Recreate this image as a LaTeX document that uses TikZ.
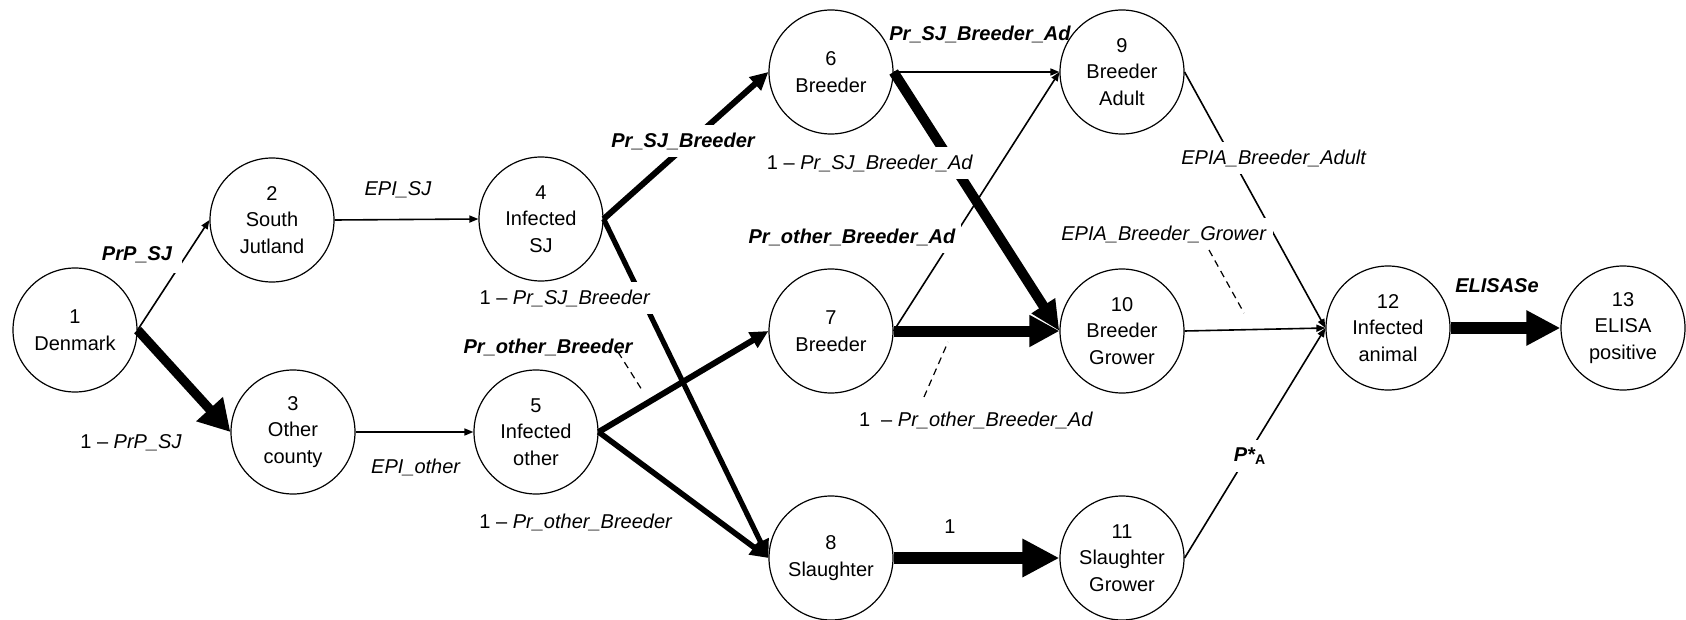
\documentclass[tikz,border=0pt]{standalone}
\usepackage{fontspec}
\setmainfont{Liberation Sans}
\usetikzlibrary{arrows.meta,backgrounds}
\begin{document}
\begin{tikzpicture}[x=0.5pt,y=-0.5pt,
  st/.style={circle,draw,line width=0.6pt,minimum size=62pt,inner sep=0pt,align=center,font=\fontsize{10}{13.3}\selectfont},
  lab/.style={fill=white,inner xsep=3pt,inner ysep=4pt,font=\fontsize{10}{12}\selectfont},
  blab/.style={lab,font=\fontsize{10}{12}\selectfont\bfseries\itshape},
  sarr/.style={line width=0.8pt,-{Triangle[length=4.5pt,width=3.5pt]}},
  marr/.style={line width=3pt,-{Triangle[length=9pt,width=8.5pt]}},
  harr/.style={line width=5.5pt,-{Triangle[length=15pt,width=15pt]}},
  lead/.style={line width=0.6pt,dash pattern=on 3.5pt off 2.5pt}]
\useasboundingbox (0,0) rectangle (1686,620);
% states
\node[st] (n1) at (75,330) {1\\Denmark};
\node[st] (n2) at (272,220) {2\\South\\Jutland};
\node[st] (n3) at (293,432) {3\\Other\\county};
\node[st] (n4) at (541,219) {4\\Infected\\SJ};
\node[st] (n5) at (536,432) {5\\Infected\\other};
\node[st] (n6) at (831,72) {6\\Breeder};
\node[st] (n7) at (831,331) {7\\Breeder};
\node[st] (n8) at (831,558) {8\\Slaughter};
\node[st] (n9) at (1122,72) {9\\Breeder\\Adult};
\node[st] (n10) at (1122,331) {10\\Breeder\\Grower};
\node[st] (n11) at (1122,558) {11\\Slaughter\\Grower};
\node[st] (n12) at (1388,328) {12\\Infected\\animal};
\node[st] (n13) at (1623,328) {13\\ELISA\\positive};
\begin{scope}[on background layer]
% connectors
\draw[sarr] (n1.east) -- (n2.west);
\draw[harr,line width=4.7pt,-{Triangle[length=15.5pt,width=17pt]}] (n1.east) -- (n3.west);
\draw[sarr] (n2.east) -- (n4.west);
\draw[sarr] (n3.east) -- (n5.west);
\draw[marr] (n4.east) -- (n6.west);
\draw[marr,line width=2.6pt] (n4.east) -- (n8.west);
\draw[marr] (n5.east) -- (n7.west);
\draw[marr,line width=2.8pt] (n5.east) -- (n8.west);
\draw[sarr] (n6.east) -- (n9.west);
\draw[harr,line width=5pt,-{Triangle[length=15pt,width=13pt]}] (n6.east) -- (n10.west);
\draw[sarr] (n7.east) -- (n9.west);
\draw[harr] (n7.east) -- (n10.west);
\draw[harr,line width=6pt,-{Triangle[length=18.5pt,width=18pt]}] (n8.east) -- (n11.west);
\draw[sarr] (n9.east) -- (n12.west);
\draw[sarr] (n10.east) -- (n12.west);
\draw[sarr] (n11.east) -- (n12.west);
\draw[harr,line width=6pt,-{Triangle[length=17pt,width=16.5pt]}] (n12.east) -- (n13.west);
% labels
\node[blab,inner xsep=5pt,inner ysep=5pt] (l1) at (137,255) {PrP\_SJ};
\node[lab] (l2) at (131,443) {1 – \textit{PrP\_SJ}};
\node[lab] (l3) at (398,190) {\textit{EPI\_SJ}};
\node[lab] (l4) at (416,467) {\textit{EPI\_other}};
\node[blab] (l5) at (683,141) {Pr\_SJ\_Breeder};
\node[lab] (l6) at (565,298) {1 – \textit{Pr\_SJ\_Breeder}};
\node[blab] (l7) at (548,347) {Pr\_other\_Breeder};
\node[lab] (l8) at (576,522) {1 – \textit{Pr\_other\_Breeder}};
\node[blab] (l9) at (980,34) {Pr\_SJ\_Breeder\_Ad};
\node[lab] (l10) at (870,163) {1 – \textit{Pr\_SJ\_Breeder\_Ad}};
\node[blab] (l11) at (852,237) {Pr\_other\_Breeder\_Ad};
\node[lab] (l12) at (976,420) {1\ \ – \textit{Pr\_other\_Breeder\_Ad}};
\node[lab] (l13) at (950,527) {1};
\node[lab] (l14) at (1274,158) {\textit{EPIA\_Breeder\_Adult}};
\node[lab] (l15) at (1164,234) {\textit{EPIA\_Breeder\_Grower}};
\node[blab] (l16) at (1497,286) {ELISASe};
\node[blab] (l17) at (1250,456) {P*\textsubscript{\upshape A}};
\end{scope}
% dashed leaders
\coordinate (a1) at (618,352); \coordinate (b1) at (642,390);
\coordinate (a2) at (924,397); \coordinate (b2) at (948,342);
\coordinate (a3) at (1209,250); \coordinate (b3) at (1244,313);
\draw[lead] (a1) -- (b1);
\draw[lead] (a2) -- (b2);
\draw[lead] (a3) -- (b3);
\end{tikzpicture}
\end{document}
